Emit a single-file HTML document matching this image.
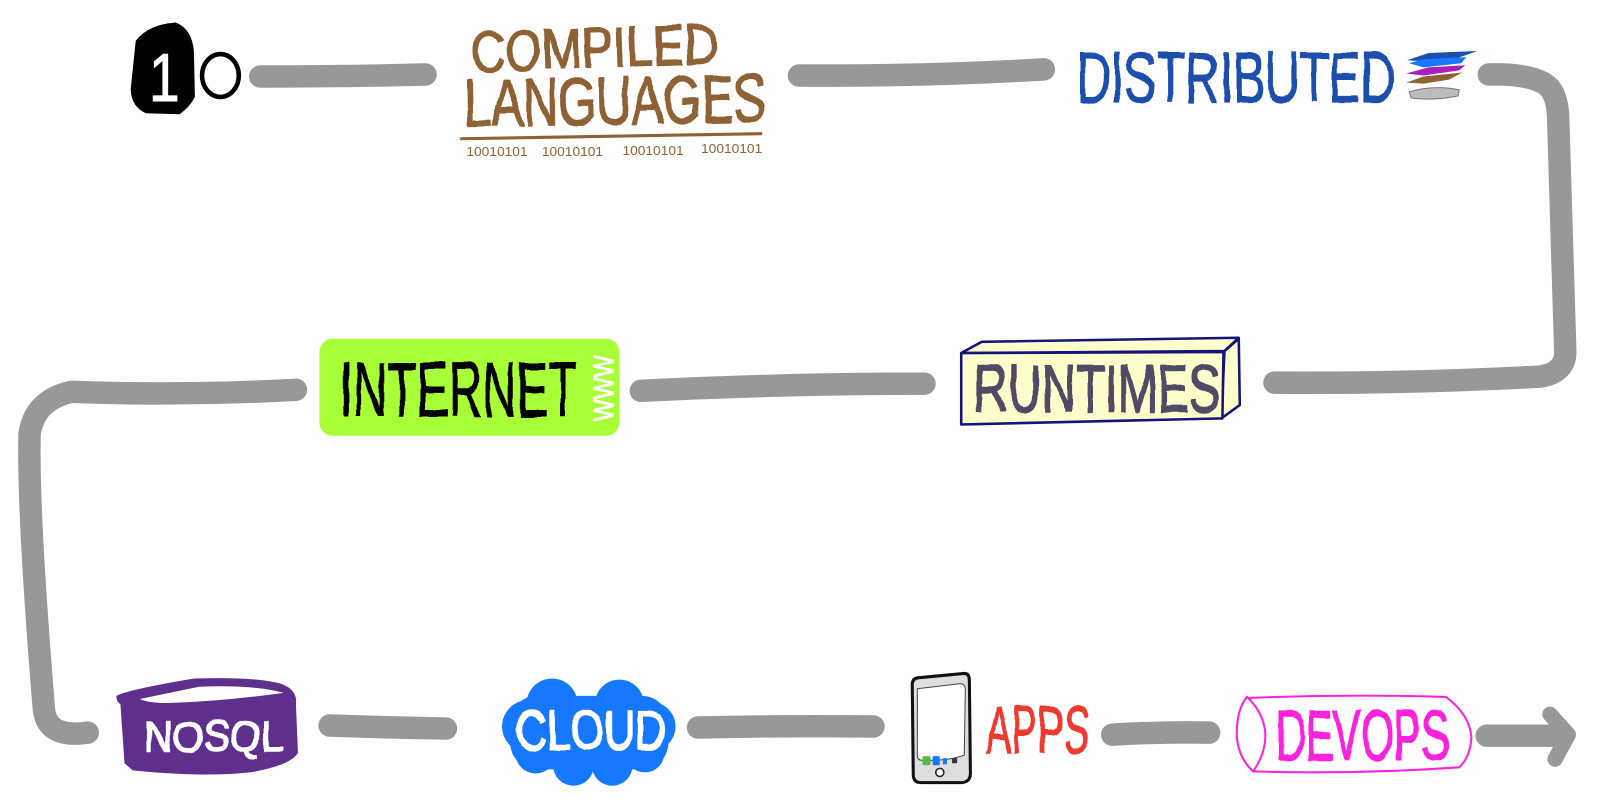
<!DOCTYPE html>
<html><head><meta charset="utf-8"><title>Diagram</title>
<style>
html,body{margin:0;padding:0;background:#fff;width:1600px;height:801px;overflow:hidden}
svg{display:block}
text{font-family:"Liberation Sans",sans-serif;stroke-linejoin:round;paint-order:stroke}
.w{filter:url(#wob)}
</style></head><body>
<svg width="1600" height="801" viewBox="0 0 1568 785" xmlns="http://www.w3.org/2000/svg">
<defs>
<filter id="wob" x="-5%" y="-20%" width="110%" height="140%" color-interpolation-filters="sRGB">
<feTurbulence type="fractalNoise" baseFrequency="0.035" numOctaves="2" seed="4" result="n"/>
<feDisplacementMap in="SourceGraphic" in2="n" scale="5" xChannelSelector="R" yChannelSelector="G"/>
</filter>
</defs>
<rect width="1568" height="785" fill="#fff"/>
<g fill="none" stroke="#989898" stroke-width="22" stroke-linecap="round" stroke-linejoin="round">
<path d="M255 75 Q340 75 417 73"/>
<path d="M783 74 Q900 75 1023 68"/>
<path d="M1459 73 Q1495 72 1512 81 Q1526 88 1527 115 L1534 345 Q1534 365 1510 369 Q1380 376 1249 375"/>
<path d="M628 383 Q770 376 906 376"/>
<path d="M290 382 Q180 388 70 384 Q34 392 29 425 Q27 500 43 695 Q46 724 86 718"/>
<path d="M323 711 Q380 713 437 714"/>
<path d="M684 713 Q770 711 856 712"/>
<path d="M1090 720 Q1140 717 1185 718"/>
<path d="M1457 721 L1530 721"/>
<path d="M1519 700 L1537 720 L1524 744" stroke-width="15"/>
</g>
<!-- 10 -->
<path d="M133 40 Q145 24 172 22 Q188 28 190 50 L191 95 Q186 105 176 112 L143 111 Q129 105 128 88 Z" fill="#000"/>
<text x="146" y="99" font-size="66" fill="#fff" stroke="#fff" stroke-width="1" textLength="30" lengthAdjust="spacingAndGlyphs">1</text>
<ellipse cx="216" cy="74" rx="18" ry="21" fill="#fff" stroke="#000" stroke-width="4.5"/>
<!-- compiled -->
<g class="w" fill="#8f6235" stroke="#8f6235" stroke-width="1.5">
<text x="462" y="70" font-size="55" textLength="243" lengthAdjust="spacingAndGlyphs" transform="rotate(-2 462 70)">COMPILED</text>
<text x="455" y="124" font-size="66" textLength="296" lengthAdjust="spacingAndGlyphs" transform="rotate(-1 455 124)">LANGUAGES</text>
</g>
<path d="M451 136 L747 131" stroke="#8f6235" stroke-width="3" fill="none"/>
<g fill="#8f6235" font-size="13">
<text x="457" y="153" textLength="60" lengthAdjust="spacingAndGlyphs">10010101</text>
<text x="531" y="153" textLength="60" lengthAdjust="spacingAndGlyphs">10010101</text>
<text x="610" y="152" textLength="60" lengthAdjust="spacingAndGlyphs">10010101</text>
<text x="687" y="150" textLength="60" lengthAdjust="spacingAndGlyphs">10010101</text>
</g>
<!-- distributed -->
<text class="w" x="1055" y="100" font-size="70" fill="#1c4fad" stroke="#1c4fad" stroke-width="1.2" textLength="312" lengthAdjust="spacingAndGlyphs">DISTRIBUTED</text>
<polygon points="1379,59 1400,52 1448,50 1428,57 1395,60" fill="#1c4fad"/>
<polygon points="1381,62 1395,58 1437,56 1432,62 1395,66" fill="#1677ff"/>
<polygon points="1378,72 1400,66 1436,64 1430,69 1395,74" fill="#a81fbd"/>
<polygon points="1378,81 1395,75 1433,71 1420,78 1395,82" fill="#8f6235"/>
<path d="M1381 90 Q1405 83 1430 88 L1429 94 Q1405 99 1383 96 Z" fill="#bdbdbd" stroke="#777" stroke-width="1"/>
<!-- runtimes -->
<g stroke="#14147a" fill="#ffffcc" stroke-width="2.5" stroke-linejoin="round">
<polygon points="942,346 962,335 1214,331 1200,344"/>
<polygon points="1200,344 1214,332 1215,397 1197,410"/>
<path d="M942 346 L1199 345 L1198 410 L942 416 Z"/>
</g>
<text class="w" x="954" y="404" font-size="66" fill="#504a66" stroke="#504a66" stroke-width="1.5" textLength="242" lengthAdjust="spacingAndGlyphs">RUNTIMES</text>
<!-- internet -->
<rect x="313" y="332" width="294" height="95" rx="13" fill="#a9ff37"/>
<text class="w" x="333" y="408" font-size="76" fill="#000" stroke="#000" stroke-width="1" textLength="233" lengthAdjust="spacingAndGlyphs">INTERNET</text>
<text transform="translate(601 413) rotate(-90)" font-size="28" fill="#fff" stroke="#fff" stroke-width="1" textLength="65" lengthAdjust="spacingAndGlyphs">WWW</text>
<!-- nosql -->
<path d="M114 682 Q125 676 190 665 Q250 663 275 670 Q292 676 290 690 L292 738 Q285 750 245 757 Q200 762 130 755 L122 748 L118 690 Q114 688 114 682 Z" fill="#5e2f8c"/>
<path d="M137 685 L195 673 Q250 671 278 679 Q220 687 165 689 Q145 689 137 685 Z" fill="#fff"/>
<text class="w" x="141" y="736" font-size="42" fill="#fff" stroke="#fff" stroke-width="1.5" textLength="137" lengthAdjust="spacingAndGlyphs">NOSQL</text>
<!-- cloud -->
<g fill="#1677ff">
<rect x="500" y="682" width="155" height="72" rx="26"/>
<circle cx="541" cy="690" r="25"/><circle cx="607" cy="690" r="24"/><circle cx="518" cy="712" r="26"/><circle cx="638" cy="712" r="24"/>
<circle cx="525" cy="738" r="20"/><circle cx="632" cy="738" r="19"/><circle cx="562" cy="750" r="20"/><circle cx="600" cy="750" r="20"/>
</g>
<text class="w" x="505" y="734" font-size="54" fill="#fff" stroke="#fff" stroke-width="2" textLength="148" lengthAdjust="spacingAndGlyphs">CLOUD</text>
<!-- phone -->
<path d="M894 671 Q894 664 902 664 L945 660 Q950 660 950 667 L951 758 Q951 766 943 767 L903 767 Q895 767 895 759 Z" fill="#dedede" stroke="#111" stroke-width="3"/>
<path d="M899 675 L941 670 Q946 670 946 676 L945 740 Q930 746 903 745 Q899 745 899 740 Z" fill="#fff" stroke="#444" stroke-width="1"/>
<rect x="904" y="741" width="8" height="9" rx="2" fill="#58b947"/>
<rect x="914" y="741" width="7" height="9" rx="1" fill="#1677ff"/>
<rect x="924" y="743" width="4" height="6" fill="#1677ff"/>
<rect x="933" y="743" width="5" height="5" fill="#333"/>
<circle cx="921" cy="757" r="4" fill="#fff" stroke="#222" stroke-width="1.5"/>
<!-- apps -->
<text class="w" x="966" y="738" font-size="66" fill="#ee3a2e" stroke="#ee3a2e" stroke-width="1" textLength="102" lengthAdjust="spacingAndGlyphs">APPS</text>
<!-- devops -->
<g fill="none" stroke="#ff22dd" stroke-width="2">
<path d="M1222 683 Q1212 695 1212 720 Q1213 742 1228 756 Q1241 738 1240 718 Q1238 698 1222 683 Z"/>
<path d="M1224 684 Q1320 680 1417 683 Q1440 700 1442 722 Q1441 742 1430 752 Q1330 759 1228 756"/>
</g>
<text class="w" x="1250" y="745" font-size="70" fill="#ff22dd" stroke="#ff22dd" stroke-width="1.5" textLength="170" lengthAdjust="spacingAndGlyphs">DEVOPS</text>
</svg>
</body></html>
